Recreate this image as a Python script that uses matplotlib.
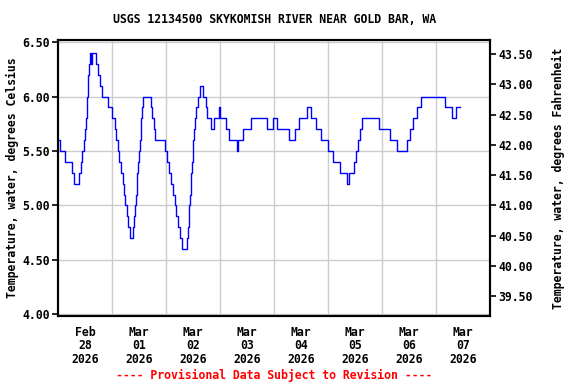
import pandas as pd
import matplotlib
matplotlib.use("Agg")
import matplotlib.pyplot as plt

# hours after 2026-02-28 00:00 where the reading changes, and the new reading (deg C)
change_hours = [0.0, 0.7, 3.3, 6.2, 7.2, 9.4, 10.3, 10.75, 11.5, 12.1, 12.4, 12.7, 13.0,
                13.3, 13.5, 13.8, 14.3, 14.6, 15.0, 16.9, 17.8, 18.7, 19.6, 22.2, 23.9,
                25.2, 25.8, 26.5, 27.2, 28.1, 28.7, 29.5, 29.7, 30.5, 31.2, 32.1, 33.4,
                33.9, 34.2, 34.6, 34.9, 35.3, 35.6, 35.9, 36.4, 36.7, 37.0, 37.4, 37.7,
                41.2, 41.8, 42.6, 43.3, 47.4, 48.6, 49.5, 50.4, 51.2, 52.0, 52.6, 53.2,
                54.2, 55.2, 57.1, 57.7, 58.0, 58.3, 58.6, 58.9, 59.2, 59.5, 59.8, 60.1,
                60.4, 60.8, 61.3, 62.1, 63.3, 64.6, 65.6, 66.4, 67.9, 69.5, 71.7, 71.9,
                74.5, 76.1, 79.5, 79.8, 82.0, 85.6, 92.8, 95.7, 97.2, 102.6, 105.3, 107.2,
                110.6, 112.4, 114.5, 116.8, 120.0, 122.1, 125.2, 128.4, 129.3, 131.3,
                132.2, 133.3, 134.1, 135.0, 142.5, 147.4, 150.7, 155.0, 156.5, 157.8,
                159.6, 161.4, 172.1, 175.0, 176.9, 178.4]
temp_c = [5.6, 5.5, 5.4, 5.3, 5.2, 5.3, 5.4, 5.5, 5.6, 5.7, 5.8, 5.9, 6.0,
          6.1, 6.2, 6.3, 6.4, 6.3, 6.4, 6.3, 6.2, 6.1, 6.0, 5.9, 5.8,
          5.7, 5.6, 5.5, 5.4, 5.3, 5.2, 5.1, 5.0, 4.9, 4.8, 4.7, 4.8,
          4.9, 5.0, 5.1, 5.2, 5.3, 5.4, 5.5, 5.6, 5.7, 5.8, 5.9, 6.0,
          5.9, 5.8, 5.7, 5.6, 5.5, 5.4, 5.3, 5.2, 5.1, 5.0, 4.9, 4.8,
          4.7, 4.6, 4.7, 4.8, 4.9, 5.0, 5.1, 5.2, 5.3, 5.4, 5.5, 5.6,
          5.7, 5.8, 5.9, 6.0, 6.1, 6.0, 5.9, 5.8, 5.7, 5.8, 5.9, 5.8,
          5.7, 5.6, 5.5, 5.6, 5.7, 5.8, 5.7, 5.8, 5.7, 5.6, 5.7, 5.8,
          5.9, 5.8, 5.7, 5.6, 5.5, 5.4, 5.3, 5.2, 5.3, 5.4,
          5.5, 5.6, 5.7, 5.8, 5.7, 5.6, 5.5, 5.6, 5.7, 5.8,
          5.9, 6.0, 5.9, 5.8, 5.9, 5.9]

start = pd.Timestamp("2026-02-28")
times = start + pd.to_timedelta(change_hours, unit="h")

left_ticks = [4.0, 4.5, 5.0, 5.5, 6.0, 6.5]
right_ticks = [39.5, 40.0, 40.5, 41.0, 41.5, 42.0, 42.5, 43.0, 43.5]
day_labels = ["Feb\n28\n2026", "Mar\n01\n2026", "Mar\n02\n2026", "Mar\n03\n2026",
              "Mar\n04\n2026", "Mar\n05\n2026", "Mar\n06\n2026", "Mar\n07\n2026"]

plt.rcParams["font.family"] = "DejaVu Sans Mono"
plt.rcParams["font.weight"] = "bold"
fs = 8.3

fig = plt.figure(figsize=(5.76, 3.84), dpi=100)
ax = fig.add_axes([0.1007, 0.177, 0.7503, 0.719])

ax.plot(times, temp_c, drawstyle="steps-post", color="#0000ff", lw=1.0)

ymin, ymax = 3.985, 6.52
ax.set_ylim(ymin, ymax)
ax.set_xlim(start, start + pd.Timedelta(days=8))
ax.set_yticks(left_ticks)
ax.set_yticklabels([f"{v:.2f}" for v in left_ticks], fontsize=fs, fontweight="bold")

# gridlines at midnight, labels at noon
midnights = [start + pd.Timedelta(days=i) for i in range(1, 8)]
noons = [start + pd.Timedelta(hours=12 + 24 * i) for i in range(8)]
ax.set_xticks(midnights)
ax.set_xticklabels([])
ax.set_xticks(noons, minor=True)
ax.set_xticklabels(day_labels, minor=True, fontsize=fs, fontweight="bold", linespacing=1.05)
ax.tick_params(axis="x", which="major", length=0)
ax.tick_params(axis="x", which="minor", length=0, pad=7)
ax.tick_params(axis="y", length=4, width=1.2, pad=2)
ax.grid(True, which="major", color="#cccccc", lw=1)
ax.set_axisbelow(True)
for s in ax.spines.values():
    s.set_linewidth(1.5)

ax.set_ylabel("Temperature, water, degrees Celsius", fontsize=fs, fontweight="bold", labelpad=2)

ax2 = ax.twinx()
ax2.set_ylim(ymin * 1.8 + 32, ymax * 1.8 + 32)
ax2.set_yticks(right_ticks)
ax2.set_yticklabels([f"{v:.2f}" for v in right_ticks], fontsize=fs, fontweight="bold")
ax2.tick_params(axis="y", length=4, width=1.2, pad=2)
ax2.set_ylabel("Temperature, water, degrees Fahrenheit", fontsize=fs, fontweight="bold", labelpad=14)
for s in ax2.spines.values():
    s.set_linewidth(1.5)

fig.text(0.476, 0.95, "USGS 12134500 SKYKOMISH RIVER NEAR GOLD BAR, WA",
         ha="center", va="center", fontsize=fs, fontweight="bold")
fig.text(0.476, 0.023, "---- Provisional Data Subject to Revision ----",
         ha="center", va="center", fontsize=fs, fontweight="bold", color="red")

fig.savefig("out.png", dpi=100)
